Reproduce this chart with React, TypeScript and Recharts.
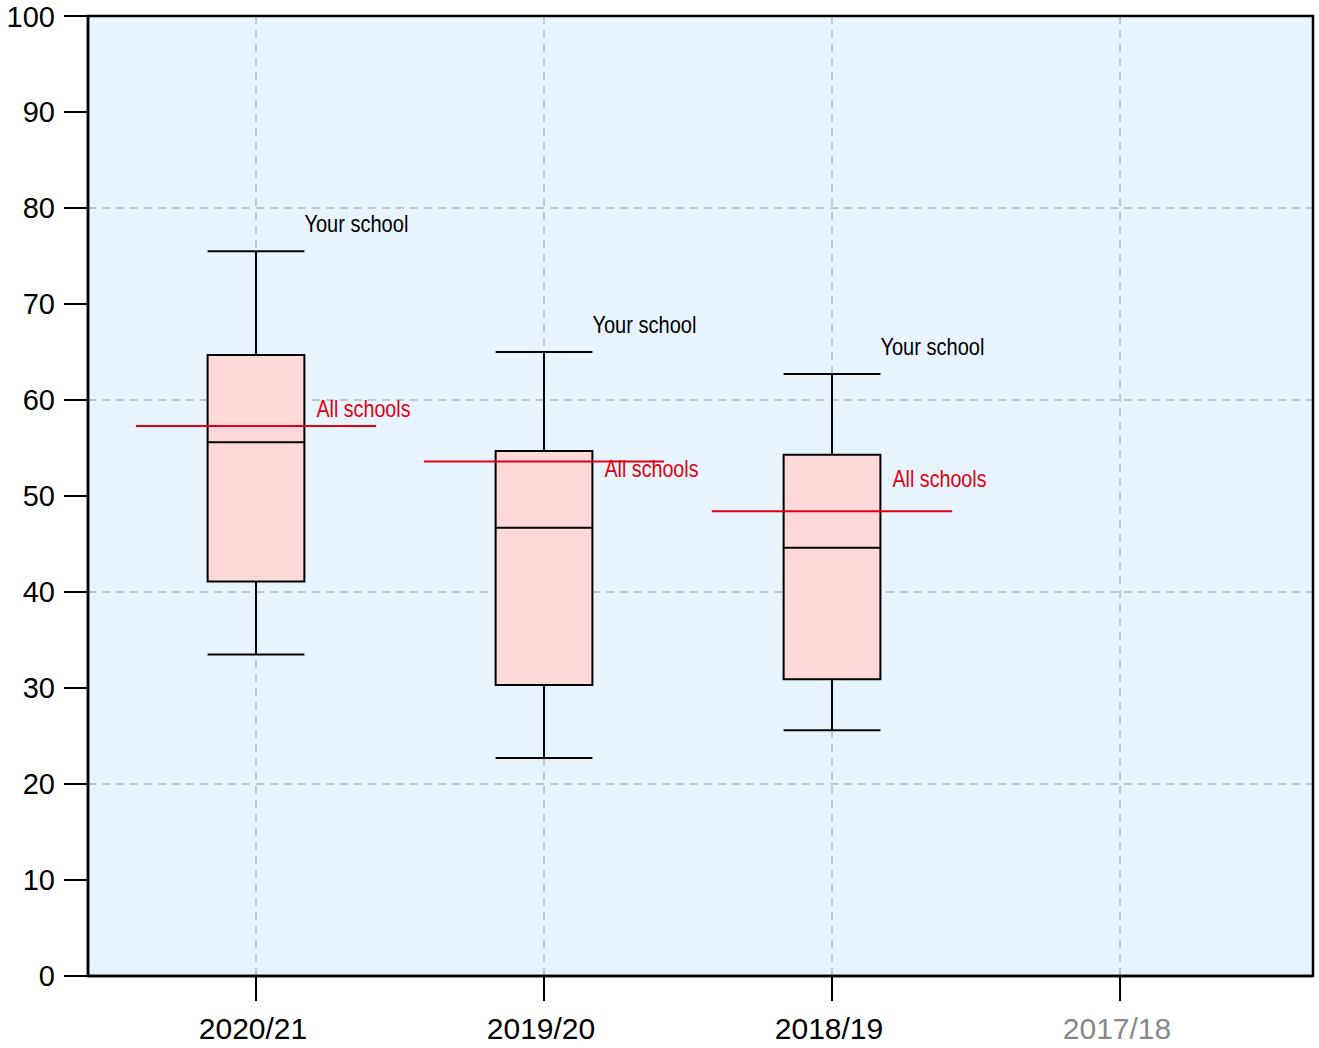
import React from 'react';
import {
  ComposedChart,
  XAxis,
  YAxis,
  CartesianGrid,
  ReferenceArea,
  ReferenceLine,
  Scatter,
} from 'recharts';

const categories = ['2020/21', '2019/20', '2018/19', '2017/18'];
const whiskerLow = [33.5, 22.7, 25.6];
const q1 = [41.1, 30.3, 30.9];
const median = [55.6, 46.7, 44.6];
const q3 = [64.7, 54.7, 54.3];
const whiskerHigh = [75.5, 65.0, 62.7];
const allSchools = [57.3, 53.6, 48.4];
const yTicks = [0, 10, 20, 30, 40, 50, 60, 70, 80, 90, 100];

// label nudges (px) so the red labels sit like the original
const allSchoolsLabelDy = [-17, 7, -33];

const BOX_HALF = 0.168;
const REF_HALF = 0.417;
const X_DOMAIN: [number, number] = [-0.5833, 3.67];
const RED = '#e3000f';
const SANS = '"Liberation Sans", Arial, sans-serif';

const yourSchoolPoints = whiskerHigh.map((v, i) => ({ x: i + BOX_HALF, y: v }));
const allSchoolsPoints = allSchools.map((v, i) => ({ x: i + 0.21, y: v, dy: allSchoolsLabelDy[i] }));

const XTick = (props: any) => {
  const { x, y, payload } = props;
  const idx = payload.value;
  return (
    <text
      x={x - 3}
      y={y}
      dy="0.71em"
      textAnchor="middle"
      fontSize={30}
      fontFamily={SANS}
      fill={idx === 3 ? '#888888' : '#000000'}
    >
      {categories[idx]}
    </text>
  );
};

// narrow look: squeeze the sans face into the label width
const YourSchoolLabel = (props: any) => {
  const { cx, cy } = props;
  return (
    <text x={cx} y={cy - 28} dominantBaseline="central" fontSize={24} fontFamily={SANS} fill="#000"
      textLength={104} lengthAdjust="spacingAndGlyphs">
      Your school
    </text>
  );
};

const AllSchoolsLabel = (props: any) => {
  const { cx, cy, payload } = props;
  return (
    <text x={cx} y={cy + payload.dy} dominantBaseline="central" fontSize={24} fontFamily={SANS} fill={RED}
      textLength={94} lengthAdjust="spacingAndGlyphs">
      All schools
    </text>
  );
};

const App: React.FC = () => {
  return (
    <div style={{ position: 'absolute', left: 0, top: 0, width: 1319, height: 1048, background: '#fff' }}>
      <ComposedChart width={1319} height={1048} margin={{ top: 16, right: 6, bottom: 0, left: 0 }}>
        <CartesianGrid
          fill="#e8f4fd"
          stroke="#9a9a9a"
          strokeDasharray="8 6"
          horizontalValues={[20, 40, 60, 80]}
          verticalValues={[0, 1, 2, 3]}
        />
        <XAxis
          type="number"
          dataKey="x"
          domain={X_DOMAIN}
          ticks={[0, 1, 2, 3]}
          allowDataOverflow
          height={72}
          tickSize={25}
          tickMargin={17}
          tickLine={{ stroke: '#000', strokeWidth: 2 }}
          axisLine={{ stroke: '#000', strokeWidth: 2.5 }}
          tick={<XTick />}
        />
        <YAxis
          type="number"
          dataKey="y"
          domain={[0, 100]}
          ticks={yTicks}
          width={88}
          tickSize={24}
          tickMargin={9}
          tickLine={{ stroke: '#000', strokeWidth: 2 }}
          axisLine={{ stroke: '#000', strokeWidth: 2.5 }}
          tick={{ fontSize: 29, fill: '#000', fontFamily: SANS }}
        />
        {q1.map((lo, i) => (
          <ReferenceArea
            key={`box-${i}`}
            x1={i - BOX_HALF}
            x2={i + BOX_HALF}
            y1={lo}
            y2={q3[i]}
            fill="#ffd9da"
            fillOpacity={1}
            stroke="#000"
            strokeWidth={2}
          />
        ))}
        {q1.map((_, i) => (
          <ReferenceLine key={`wl-${i}`} stroke="#000" strokeWidth={2}
            segment={[{ x: i, y: whiskerLow[i] }, { x: i, y: q1[i] }]} />
        ))}
        {q1.map((_, i) => (
          <ReferenceLine key={`wh-${i}`} stroke="#000" strokeWidth={2}
            segment={[{ x: i, y: q3[i] }, { x: i, y: whiskerHigh[i] }]} />
        ))}
        {q1.map((_, i) => (
          <ReferenceLine key={`cl-${i}`} stroke="#000" strokeWidth={2}
            segment={[{ x: i - BOX_HALF, y: whiskerLow[i] }, { x: i + BOX_HALF, y: whiskerLow[i] }]} />
        ))}
        {q1.map((_, i) => (
          <ReferenceLine key={`ch-${i}`} stroke="#000" strokeWidth={2}
            segment={[{ x: i - BOX_HALF, y: whiskerHigh[i] }, { x: i + BOX_HALF, y: whiskerHigh[i] }]} />
        ))}
        {q1.map((_, i) => (
          <ReferenceLine key={`md-${i}`} stroke="#000" strokeWidth={2}
            segment={[{ x: i - BOX_HALF, y: median[i] }, { x: i + BOX_HALF, y: median[i] }]} />
        ))}
        {allSchools.map((v, i) => (
          <ReferenceLine key={`all-${i}`} stroke={RED} strokeWidth={2}
            segment={[{ x: i - REF_HALF, y: v }, { x: i + REF_HALF, y: v }]} />
        ))}
        <ReferenceArea
          x1={X_DOMAIN[0]}
          x2={X_DOMAIN[1]}
          y1={0}
          y2={100}
          fill="none"
          stroke="#000"
          strokeWidth={2.5}
        />
        <Scatter data={yourSchoolPoints} shape={<YourSchoolLabel />} isAnimationActive={false} />
        <Scatter data={allSchoolsPoints} shape={<AllSchoolsLabel />} isAnimationActive={false} />
      </ComposedChart>
    </div>
  );
};

export default App;
